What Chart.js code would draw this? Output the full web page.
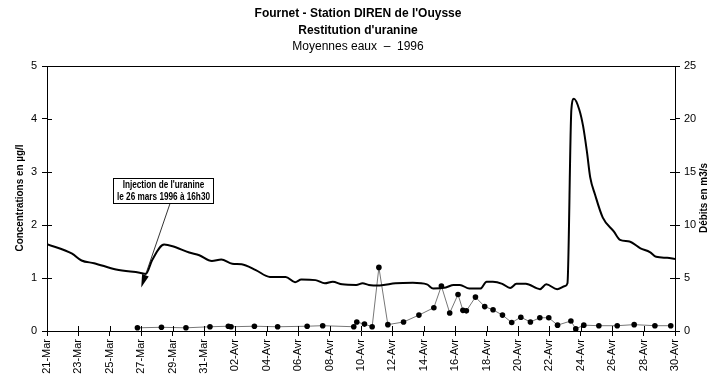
<!DOCTYPE html>
<html>
<head>
<meta charset="utf-8">
<script src="https://cdn.jsdelivr.net/npm/chart.js@4.4.1/dist/chart.umd.min.js"></script>
<style>
  html, body { margin: 0; padding: 0; background: #ffffff; }
  #wrap { width: 713px; height: 382px; position: relative; }
</style>
</head>
<body>
<div id="wrap"><canvas id="c" width="713" height="382"></canvas></div>
<script>
// ---- Data ----
const titleLines = ["Fournet - Station DIREN de l'Ouysse", "Restitution d'uranine"];
const subtitleText = "Moyennes eaux  \u2013  1996";
const leftAxisTitle = "Concentrations en \u00b5g/l";
const rightAxisTitle = "D\u00e9bits en m3/s";

// x tick labels, one every 2 days starting 21 March (day 0) to 30 April (day 40)
const dateLabels = ["21-Mar","23-Mar","25-Mar","27-Mar","29-Mar","31-Mar","02-Avr","04-Avr","06-Avr","08-Avr",
                    "10-Avr","12-Avr","14-Avr","16-Avr","18-Avr","20-Avr","22-Avr","24-Avr","26-Avr","28-Avr","30-Avr"];

// Discharge (right axis, m3/s): day offsets since 21 March and values
const flowDays = [0, 1.6, 2.2, 3.0, 4.4, 5.9, 6.3, 6.7, 7.46, 8.0, 9.06, 9.7, 10.5, 11.1, 11.8, 12.4, 13.3, 14.2,
                  15.2, 15.8, 16.2, 17.1, 17.7, 18.2, 18.8, 19.7, 20.1, 20.5, 21.2, 22.2, 23.3, 24.2, 24.6, 25.4,
                  25.9, 26.3, 26.9, 27.6, 28.0, 28.4, 29.0, 29.5, 29.9, 30.5, 31.4, 31.8, 32.5, 33.0, 33.15, 33.4,
                  33.56, 33.9, 34.15, 34.4, 34.6, 34.9, 35.4, 36.1, 36.5, 37.1, 37.8, 38.4, 38.8, 39.5, 40.0];
const flowValues = [8.2, 7.3, 6.65, 6.4, 5.8, 5.5, 5.4, 6.7, 8.15, 8.0, 7.4, 7.15, 6.6, 6.75, 6.35, 6.3, 5.75, 5.1,
                    5.1, 4.6, 4.85, 4.8, 4.5, 4.65, 4.4, 4.35, 4.5, 4.35, 4.3, 4.5, 4.55, 4.4, 4.0, 4.1,
                    4.35, 4.35, 4.0, 4.0, 4.65, 4.65, 4.45, 4.05, 4.45, 4.45, 3.95, 4.4, 3.95, 4.25, 4.5, 20.9,
                    21.9, 20.9, 19.3, 16.8, 14.5, 12.9, 10.7, 9.4, 8.6, 8.45, 7.8, 7.45, 7.0, 6.9, 6.8];

// Uranine concentration (left axis, µg/l)
const concDays = [5.76, 7.29, 8.85, 10.38, 11.55, 11.72, 13.21, 14.69, 16.57, 17.56, 19.54, 19.73, 20.22, 20.71,
                  21.14, 21.71, 22.71, 23.69, 24.64, 25.12, 25.65, 26.18, 26.49, 26.71, 27.29, 27.88, 28.41,
                  29.01, 29.6, 30.18, 30.79, 31.39, 31.96, 32.52, 33.37, 33.68, 34.19, 35.15, 36.32, 37.4, 38.72, 39.73];
const concValues = [0.06, 0.07, 0.06, 0.08, 0.09, 0.08, 0.09, 0.08, 0.09, 0.1, 0.08, 0.17, 0.13, 0.08,
                    1.2, 0.12, 0.17, 0.3, 0.44, 0.85, 0.34, 0.69, 0.39, 0.38, 0.64, 0.46, 0.4,
                    0.3, 0.16, 0.26, 0.17, 0.25, 0.25, 0.11, 0.19, 0.04, 0.11, 0.1, 0.1, 0.12, 0.1, 0.1];

// Annotation
const annotationLines = ["Injection de l'uranine", "le 26 mars 1996 \u00e0 16h30"];
const annotationBox = { day: 7.39, conc: 2.65 };
const arrowTip = { day: 6.0, flow: 4.1 };

// ---- Chart ----
const SANS = "'Liberation Sans', Arial, sans-serif";

const flowData = flowDays.map((d, i) => ({ x: d, y: flowValues[i] }));
const concData = concDays.map((d, i) => ({ x: d, y: concValues[i] }));

function narrowText(ctx, text, x, y, sx) {
  ctx.save();
  ctx.translate(x, y);
  ctx.scale(sx, 1);
  ctx.fillText(text, 0, 0);
  ctx.restore();
}

const decorPlugin = {
  id: 'decor',
  afterDraw(chart) {
    const ctx = chart.ctx;
    const a = chart.chartArea;
    const xs = chart.scales.x, ys = chart.scales.y, y2 = chart.scales.y2;
    ctx.save();
    // frame top line
    ctx.strokeStyle = '#000';
    ctx.lineWidth = 1;
    ctx.beginPath();
    ctx.moveTo(a.left, a.top + 0.5);
    ctx.lineTo(a.right, a.top + 0.5);
    ctx.stroke();
    // inward tick marks
    ctx.beginPath();
    xs.ticks.forEach(t => { const px = Math.round(xs.getPixelForValue(t.value)) + 0.5; ctx.moveTo(px, a.bottom); ctx.lineTo(px, a.bottom - 5); });
    ys.ticks.forEach(t => { const py = Math.round(ys.getPixelForValue(t.value)) + 0.5; ctx.moveTo(a.left, py); ctx.lineTo(a.left + 5, py); });
    y2.ticks.forEach(t => { const py = Math.round(y2.getPixelForValue(t.value)) + 0.5; ctx.moveTo(a.right, py); ctx.lineTo(a.right - 5, py); });
    ctx.stroke();

    // titles
    ctx.fillStyle = '#000';
    ctx.textAlign = 'center';
    ctx.textBaseline = 'middle';
    const cx = 358;
    ctx.font = "bold 12px " + SANS;
    ctx.fillText(titleLines[0], cx, 14);
    ctx.fillText(titleLines[1], cx, 31);
    ctx.font = "12px " + SANS;
    ctx.fillText(subtitleText, cx, 47);

    // axis titles (both read bottom to top)
    ctx.font = "bold 11px " + SANS;
    ctx.save();
    ctx.translate(20, 198);
    ctx.rotate(-Math.PI / 2);
    narrowText(ctx, leftAxisTitle, 0, 0, 0.9);
    ctx.restore();
    ctx.save();
    ctx.translate(704, 198);
    ctx.rotate(-Math.PI / 2);
    narrowText(ctx, rightAxisTitle, 0, 0, 0.9);
    ctx.restore();

    // annotation box
    const bx = xs.getPixelForValue(annotationBox.day);
    const by = ys.getPixelForValue(annotationBox.conc);
    const bw = 100, bh = 25;
    const left = Math.round(bx - bw / 2) + 0.5, top = Math.round(by - bh / 2) + 0.5;
    // arrow
    const tx = xs.getPixelForValue(arrowTip.day);
    const ty = y2.getPixelForValue(arrowTip.flow);
    const sx = bx + 7, sy = top + bh;
    const dx = tx - sx, dy = ty - sy, len = Math.hypot(dx, dy);
    const ux = dx / len, uy = dy / len;
    const hl = 13, hw = 3.5;
    const baseX = tx - ux * hl, baseY = ty - uy * hl;
    ctx.strokeStyle = '#000';
    ctx.lineWidth = 0.8;
    ctx.beginPath();
    ctx.moveTo(sx, sy);
    ctx.lineTo(baseX, baseY);
    ctx.stroke();
    ctx.beginPath();
    ctx.moveTo(tx, ty);
    ctx.lineTo(baseX - uy * hw, baseY + ux * hw);
    ctx.lineTo(baseX + uy * hw, baseY - ux * hw);
    ctx.closePath();
    ctx.fillStyle = '#000';
    ctx.fill();

    ctx.fillStyle = '#fff';
    ctx.fillRect(left, top, bw, bh);
    ctx.lineWidth = 1;
    ctx.strokeRect(left, top, bw, bh);
    ctx.fillStyle = '#000';
    ctx.font = "bold 10px " + SANS;
    narrowText(ctx, annotationLines[0], left + bw / 2, top + 7, 0.82);
    narrowText(ctx, annotationLines[1], left + bw / 2, top + 19, 0.82);
    ctx.restore();
  }
};

new Chart(document.getElementById('c'), {
  type: 'line',
  data: {
    datasets: [
      {
        label: 'Débits',
        data: flowData,
        yAxisID: 'y2',
        borderColor: '#000',
        borderWidth: 2,
        pointRadius: 0,
        cubicInterpolationMode: 'monotone',
        fill: false
      },
      {
        label: 'Concentrations',
        data: concData,
        yAxisID: 'y',
        borderColor: '#777',
        borderWidth: 1,
        pointRadius: 2.8,
        pointBackgroundColor: '#000',
        pointBorderColor: '#000',
        pointBorderWidth: 0,
        tension: 0,
        fill: false
      }
    ]
  },
  options: {
    responsive: false,
    animation: false,
    layout: { padding: { top: 66, left: 0, right: 0, bottom: 0 } },
    plugins: { legend: { display: false }, title: { display: false }, tooltip: { enabled: false } },
    scales: {
      x: {
        type: 'linear',
        min: 0, max: 40,
        afterFit(s) { s.height = 51; },
        afterBuildTicks(s) { s.ticks = dateLabels.map((_, i) => ({ value: i * 2 })); },
        ticks: {
          autoSkip: false,
          maxRotation: 90, minRotation: 90,
          padding: 3,
          color: '#000',
          font: { family: SANS, size: 11 },
          callback: (v) => dateLabels[Math.round(v / 2)]
        },
        grid: { drawOnChartArea: false, drawTicks: true, tickLength: 5, color: '#000' },
        border: { color: '#000', width: 1 }
      },
      y: {
        position: 'left',
        min: 0, max: 5,
        afterFit(s) { s.width = 47; },
        ticks: { stepSize: 1, color: '#000', padding: 5, font: { family: SANS, size: 11 } },
        grid: { drawOnChartArea: false, drawTicks: true, tickLength: 5, color: '#000' },
        border: { color: '#000', width: 1 }
      },
      y2: {
        position: 'right',
        min: 0, max: 25,
        afterFit(s) { s.width = 38; },
        ticks: { stepSize: 5, color: '#000', padding: 4, font: { family: SANS, size: 11 } },
        grid: { drawOnChartArea: false, drawTicks: true, tickLength: 5, color: '#000' },
        border: { color: '#000', width: 1 }
      }
    }
  },
  plugins: [decorPlugin]
});
</script>
</body>
</html>
